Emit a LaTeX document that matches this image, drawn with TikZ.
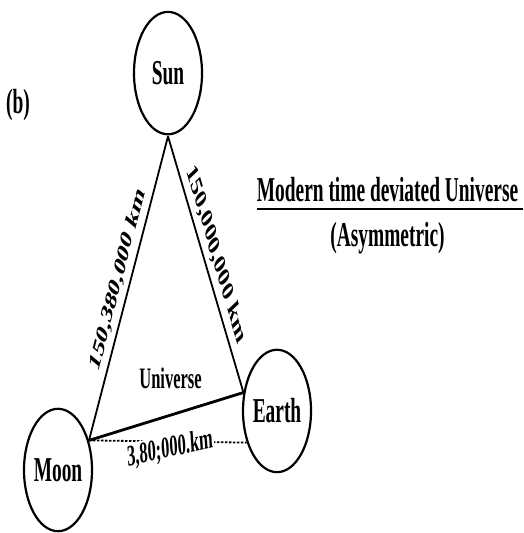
\documentclass[tikz,border=0pt]{standalone}
\usepackage{fontspec}
\setmainfont{Liberation Serif}
\usetikzlibrary{calc}

\begin{document}
\begin{tikzpicture}[x=1pt,y=1pt,yscale=1.8,transform shape]
\tikzstyle{body}=[circle,draw=black,line width=2.2pt,minimum size=68pt,inner sep=0pt,font=\fontsize{19.4}{22}\selectfont\bfseries]
\tikzstyle{big}=[inner sep=0pt,font=\fontsize{19.4}{22}\selectfont\bfseries]
\tikzstyle{small}=[inner sep=0pt,font=\fontsize{16.5}{19}\selectfont\bfseries]
\tikzstyle{link}=[line width=1.8pt]
\useasboundingbox (0,0) rectangle (523,-296.1);
\node[big] (tag) at (18,-58.3) {(b)};
\node[body] (sun) at (168,-40.6) {Sun};
\node[body] (moon) at (58,-261.1) {Moon};
\node[body] (earth) at (277,-228.3) {Earth};
\draw[link] (moon.28) -- node[small,pos=.5,rotate=65,anchor=south,inner sep=4pt] (far) {150,380,000 km} (sun.south);
\draw[link] (sun.south) -- node[small,pos=.5,rotate=-62,anchor=south,inner sep=4pt] (near) {150,000,000 km} (earth.163);
\draw[line width=2.8pt] (moon.28) -- (earth.163);
\draw[line width=1.8pt,dash pattern=on 2.5pt off 1.5pt] (moon.28) -- (earth.210);
\node[small,anchor=base] (univ) at (170.5,-215.6) {Universe};
\node[small,fill=white,inner sep=1pt,rotate=7] (dist) at (170,-249.4) {3,80;000.km};
% title on the right
\node[big,anchor=base] (title) at (387.5,-112.2) {Modern time deviated Universe};
\node[big,anchor=base] (asym) at (387.5,-136.7) {(Asymmetric)};
\draw[line width=2.6pt] ($(title.base west)+(0,-3.9)$) -- ($(title.base east)+(5,-3.9)$);
\end{tikzpicture}
\end{document}
